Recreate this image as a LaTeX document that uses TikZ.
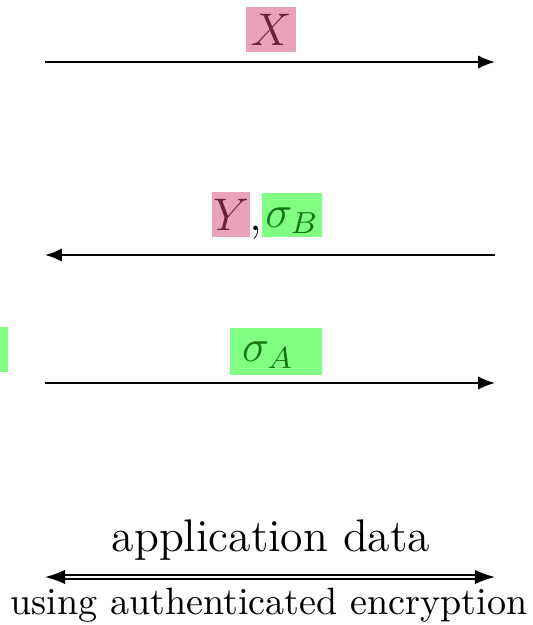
\documentclass[tikz,border=0pt]{standalone}
\usetikzlibrary{arrows.meta}
\definecolor{hlpink}{RGB}{233,163,184}
\definecolor{hlgreen}{RGB}{128,255,128}
\definecolor{inkpink}{RGB}{108,32,62}
\definecolor{inkgreen}{RGB}{18,118,18}
\begin{document}
\begin{tikzpicture}[x=0.2625pt,y=-0.2625pt,
  msg/.style={line width=0.55pt,-{Latex[length=4.4pt,width=3.5pt]}},
  datamsg/.style={line width=0.4pt,double,double distance=0.75pt,
    {Latex[length=5.3pt,width=3.8pt]}-{Latex[length=5.3pt,width=3.8pt]}},
  pinkhl/.style={fill=hlpink,text=inkpink,inner sep=0pt,font=\large},
  greenhl/.style={fill=hlgreen,text=inkgreen,inner sep=0pt,font=\large,text depth=0pt},
  plain/.style={inner sep=0pt}]
\useasboundingbox (0,0) rectangle (533,625);

% message endpoints
\coordinate (m1l) at (45,62);   \coordinate (m1r) at (495,62);
\coordinate (m2l) at (45,255);  \coordinate (m2r) at (495,255);
\coordinate (m3l) at (45,383);  \coordinate (m3r) at (495,383);
\coordinate (m4l) at (45,577);  \coordinate (m4r) at (495,577);

% first message: X
\node[pinkhl,minimum width=13.1pt,minimum height=11.8pt] (lx) at (271,29.5) {$X$};
\draw[msg] (m1l) -- (m1r);

% second message: Y, sigma_B
\node[pinkhl,minimum width=10pt,minimum height=11.8pt] (ly) at (231,214.5) {$Y$};
\node[plain,font=\large,anchor=base west] (lcomma) at (248.5,230) {$,$};
\node[greenhl,text height=6.3pt,minimum width=15.8pt,minimum height=11.6pt] (lsb) at (292,215) {$\sigma_B$};
\draw[msg] (m2r) -- (m2l);

% third message: sigma_A
\fill[hlgreen] (0,327) rectangle (8,372);
\node[greenhl,text height=5.5pt,minimum width=24.2pt,minimum height=12.3pt,
      text width=24.2pt,align=left] (lsa) at (276,351.5) {\hspace*{3.2pt}$\sigma_A$};
\draw[msg] (m3l) -- (m3r);

% application data
\node[plain,font=\large] (lapp) at (271,540) {application data};
\draw[datamsg] (m4l) -- (m4r);
\node[plain] (lenc) at (269,605) {using authenticated encryption};
\end{tikzpicture}
\end{document}
